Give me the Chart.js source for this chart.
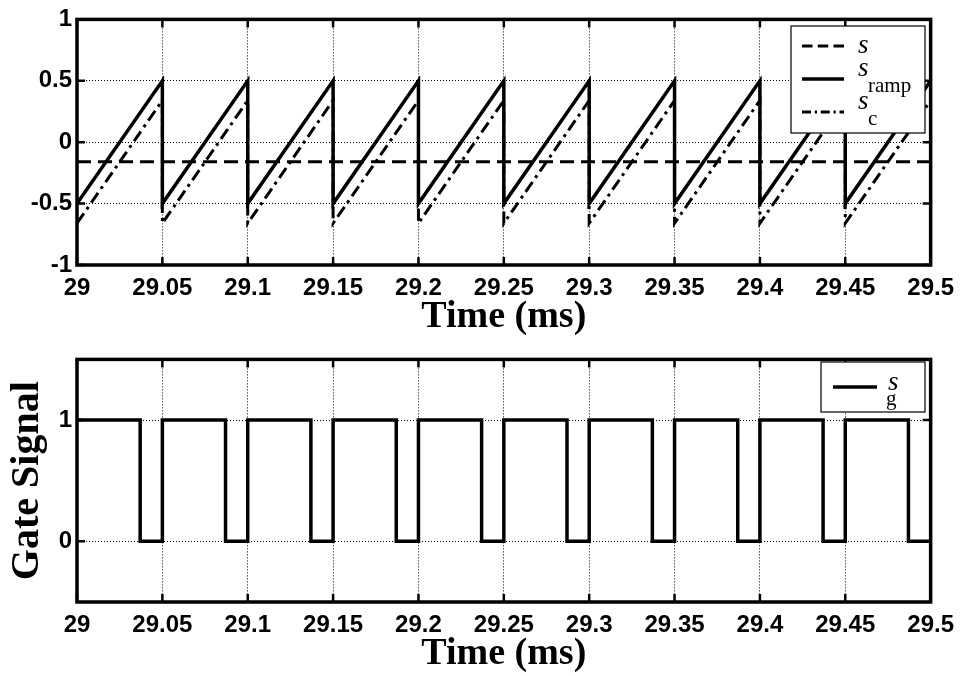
<!DOCTYPE html>
<html>
<head>
<meta charset="utf-8">
<script src="https://cdn.jsdelivr.net/npm/chart.js@4"></script>
<style>
  body { margin: 0; background: #fff; }
  #wrap { position: relative; width: 963px; height: 676px; }
  canvas { position: absolute; left: 0; }
  #upper { top: 0; }
  #lower { top: 340px; }
</style>
</head>
<body>
<div id="wrap">
  <canvas id="upper" width="963" height="340"></canvas>
  <canvas id="lower" width="963" height="336"></canvas>
</div>
<script>
// time axis, shared by both plots (ms)
const timeTicks = [29, 29.05, 29.1, 29.15, 29.2, 29.25, 29.3, 29.35, 29.4, 29.45, 29.5];
const timeLabels = ['29', '29.05', '29.1', '29.15', '29.2', '29.25', '29.3', '29.35', '29.4', '29.45', '29.5'];

// upper plot: ramp carrier, offset s and compare signal s_c (vertices of the sawtooth)
const rampTime = [29, 29.05, 29.05, 29.1, 29.1, 29.15, 29.15, 29.2, 29.2, 29.25,
                  29.25, 29.3, 29.3, 29.35, 29.35, 29.4, 29.4, 29.45, 29.45, 29.5];
const sRamp = [-0.5, 0.5, -0.5, 0.5, -0.5, 0.5, -0.5, 0.5, -0.5, 0.5,
               -0.5, 0.5, -0.5, 0.5, -0.5, 0.5, -0.5, 0.5, -0.5, 0.5];
const sComp = [-0.66, 0.34, -0.66, 0.34, -0.66, 0.34, -0.66, 0.34, -0.66, 0.34,
               -0.66, 0.34, -0.66, 0.34, -0.66, 0.34, -0.66, 0.34, -0.66, 0.34];
const sTime = [29, 29.5];
const sLevel = [-0.16, -0.16];
const upperTicks = [-1, -0.5, 0, 0.5, 1];
const upperLabels = ['-1', '-0.5', '0', '0.5', '1'];

// lower plot: gate signal, value after each switching instant
const gateTime = [29, 29.037, 29.05, 29.087, 29.1, 29.137, 29.15, 29.187, 29.2, 29.237, 29.25,
                  29.287, 29.3, 29.337, 29.35, 29.387, 29.4, 29.437, 29.45, 29.487, 29.5];
const gateValue = [1, 0, 1, 0, 1, 0, 1, 0, 1, 0, 1,
                   0, 1, 0, 1, 0, 1, 0, 1, 0, 0];
const lowerTicks = [0, 1];
const lowerLabels = ['0', '1'];

const pts = (xs, ys) => xs.map((x, i) => ({ x: x, y: ys[i] }));

const tickFont = { family: '"Liberation Sans", Arial, sans-serif', size: 24, weight: 'bold' };
const titleFont = { family: '"Liberation Serif", "Times New Roman", serif', size: 38, weight: 'bold', lineHeight: 1 };

// box with inward tick marks on all four sides
const framePlugin = {
  id: 'frame',
  afterDatasetsDraw(chart) {
    const { ctx, chartArea: a, scales: { x, y } } = chart;
    ctx.save();
    ctx.strokeStyle = '#000';
    ctx.lineWidth = 2.5;
    ctx.setLineDash([]);
    ctx.beginPath();
    x.ticks.forEach(t => {
      const px = x.getPixelForValue(t.value);
      ctx.moveTo(px, a.top); ctx.lineTo(px, a.top + 8);
      ctx.moveTo(px, a.bottom); ctx.lineTo(px, a.bottom - 8);
    });
    y.ticks.forEach(t => {
      const py = y.getPixelForValue(t.value);
      ctx.moveTo(a.left, py); ctx.lineTo(a.left + 8, py);
      ctx.moveTo(a.right, py); ctx.lineTo(a.right - 8, py);
    });
    ctx.stroke();
    ctx.lineWidth = 3.5;
    ctx.strokeRect(a.left, a.top, a.right - a.left, a.bottom - a.top);
    ctx.restore();
  }
};

// legend box drawn inside the axes, with italic s and roman subscript
const legendPlugin = {
  id: 'sigLegend',
  afterDraw(chart, args, o) {
    const { ctx } = chart;
    const [bx, by, bw, bh] = o.box;
    ctx.save();
    ctx.fillStyle = '#fff';
    ctx.fillRect(bx, by, bw, bh);
    ctx.strokeStyle = '#000';
    ctx.lineWidth = 1.2;
    ctx.strokeRect(bx, by, bw, bh);
    chart.data.datasets.forEach((ds, i) => {
      const ry = o.rows[i];
      ctx.lineWidth = ds.borderWidth;
      ctx.setLineDash((ds.borderDash || []).map(d => d * 0.75));
      ctx.beginPath();
      ctx.moveTo(o.lineX[0], ry);
      ctx.lineTo(o.lineX[1], ry);
      ctx.stroke();
      ctx.setLineDash([]);
      ctx.fillStyle = '#000';
      ctx.textBaseline = 'alphabetic';
      ctx.textAlign = 'left';
      ctx.font = 'italic 27px "Liberation Serif"';
      ctx.fillText(ds.label, o.textX, ry + (ds.sub ? o.sBase : o.plainBase));
      if (ds.sub) {
        ctx.font = '21px "Liberation Serif"';
        ctx.fillText(ds.sub, o.textX + o.subDx, ry + o.subBase);
      }
    });
    ctx.restore();
  }
};

function timeAxis(axisHeight, titlePad) {
  return {
    type: 'linear',
    min: 29,
    max: 29.5,
    afterBuildTicks: s => { s.ticks = timeTicks.map(v => ({ value: v })); },
    afterFit: s => { s.height = axisHeight; },
    ticks: { callback: (v, i) => timeLabels[i], font: tickFont, color: '#000', padding: 9, maxRotation: 0, autoSkip: false },
    grid: { color: '#000', lineWidth: 1, drawTicks: false },
    border: { display: false, dash: [1, 2] },
    title: { display: true, text: 'Time (ms)', font: titleFont, color: '#000', padding: { top: 0, bottom: titlePad } }
  };
}

function valueAxis(min, max, ticks, labels, title) {
  return {
    type: 'linear',
    min: min,
    max: max,
    afterBuildTicks: s => { s.ticks = ticks.map(v => ({ value: v })); },
    afterFit: s => { s.width = 77; },
    ticks: { callback: (v, i) => labels[i], font: tickFont, color: '#000', padding: 5 },
    grid: { color: '#000', lineWidth: 1, drawTicks: false },
    border: { display: false, dash: [1, 2] },
    title: title
  };
}

const common = {
  responsive: false,
  animation: false,
  devicePixelRatio: 1,
  events: [],
  elements: { point: { radius: 0 }, line: { tension: 0 } }
};

new Chart(document.getElementById('upper'), {
  type: 'line',
  data: {
    datasets: [
      { label: 's', sub: '', data: pts(sTime, sLevel), borderColor: '#000', borderWidth: 3, borderDash: [14, 7] },
      { label: 's', sub: 'ramp', data: pts(rampTime, sRamp), borderColor: '#000', borderWidth: 3.5 },
      { label: 's', sub: 'c', data: pts(rampTime, sComp), borderColor: '#000', borderWidth: 3, borderDash: [12, 5, 3, 5] }
    ]
  },
  options: Object.assign({}, common, {
    layout: { autoPadding: false, padding: { left: 0, right: 29, top: 19, bottom: 0 } },
    scales: {
      x: timeAxis(75, 4),
      y: valueAxis(-1, 1, upperTicks, upperLabels, { display: false })
    },
    plugins: {
      legend: { display: false },
      tooltip: { enabled: false },
      sigLegend: {
        box: [791, 26, 134, 107],
        rows: [46, 79, 112],
        lineX: [802, 844],
        textX: 858,
        plainBase: 7,
        sBase: -3,
        subBase: 13,
        subDx: 10
      }
    }
  }),
  plugins: [framePlugin, legendPlugin]
});

new Chart(document.getElementById('lower'), {
  type: 'line',
  data: {
    datasets: [
      { label: 's', sub: 'g', data: pts(gateTime, gateValue), borderColor: '#000', borderWidth: 3.5, stepped: 'before' }
    ]
  },
  options: Object.assign({}, common, {
    layout: { autoPadding: false, padding: { left: 0, right: 29, top: 15, bottom: 0 } },
    scales: {
      x: timeAxis(74, 3),
      y: valueAxis(-0.5, 1.5, lowerTicks, lowerLabels, {
        display: true, text: 'Gate Signal', font: { family: '"Liberation Serif", "Times New Roman", serif', size: 40, weight: 'bold', lineHeight: 1 },
        color: '#000', padding: { top: 8, bottom: 0 }
      })
    },
    plugins: {
      legend: { display: false },
      tooltip: { enabled: false },
      sigLegend: {
        box: [821, 22, 104, 50],
        rows: [47],
        lineX: [833, 877],
        textX: 888,
        plainBase: 7,
        sBase: 3,
        subBase: 18,
        subDx: -2
      }
    }
  }),
  plugins: [framePlugin, legendPlugin]
});
</script>
</body>
</html>
